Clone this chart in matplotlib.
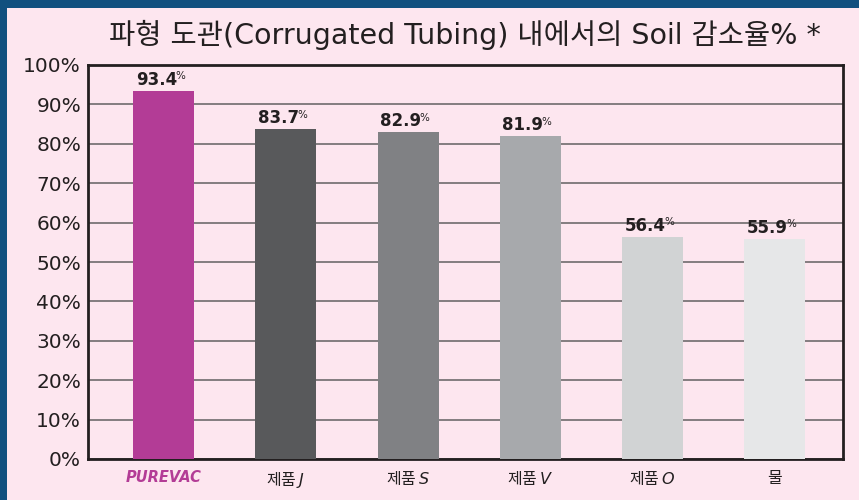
import matplotlib.pyplot as plt
from matplotlib.patches import Rectangle

plt.rcParams['font.family'] = ['Noto Sans CJK KR', 'DejaVu Sans']

categories = ['PUREVAC', '제품 $\\it{J}$', '제품 $\\it{S}$', '제품 $\\it{V}$', '제품 $\\it{O}$', '물']
values = [93.4, 83.7, 82.9, 81.9, 56.4, 55.9]
colors = ['#b33c96', '#58595b', '#808184', '#a7a9ac', '#d1d3d4', '#e6e7e8']
yticks = list(range(0, 101, 10))
title = '파형 도관(Corrugated Tubing) 내에서의 Soil 감소율% *'

fig = plt.figure(figsize=(8.59, 5.0), dpi=100)
fig.patch.set_facecolor('#11507f')
# pink panel behind everything
fig.patches.append(Rectangle((7 / 859, 0), 1, 1 - 8 / 500, transform=fig.transFigure,
                             facecolor='#fde6ef', edgecolor='none', zorder=-5))

ax = fig.add_axes([88 / 859, 41 / 500, (843 - 88) / 859, (459 - 65) / 500])
ax.set_zorder(2)
ax.set_facecolor('#fde6ef')
x = list(range(len(categories)))
ax.bar(x, values, width=0.5, color=colors, zorder=3)
ax.set_xlim(-0.62, 5.56)
ax.set_ylim(0, 100)
ax.set_yticks(yticks)
ax.set_yticklabels([f'{v}%' for v in yticks], fontsize=14.5, color='#231f20',
                   family='DejaVu Sans')
ax.yaxis.grid(True, color='#7a7577', linewidth=1.3, zorder=1)
ax.tick_params(length=0, pad=5)
ax.set_xticks(x)
ax.set_xticklabels(categories, fontsize=11.5, color='#231f20')
lbl = ax.get_xticklabels()[0]
lbl.set_color('#b33c96')
lbl.set_fontweight('bold')
lbl.set_fontstyle('italic')
lbl.set_family(['DejaVu Sans'])
lbl.set_fontsize(10.5)
ax.tick_params(axis='x', pad=8)
for s in ax.spines.values():
    s.set_linewidth(2)
    s.set_color('#231f20')

for xi, v in zip(x, values):
    t = ax.text(xi - 0.06, v + 0.5, f'{v:.1f}', ha='center', va='bottom',
                fontsize=12, fontweight='bold', color='#231f20', zorder=4,
                family='DejaVu Sans')
    ax.annotate('%', xy=(0.96, 0.98), xycoords=t, ha='left', va='top',
                fontsize=7.5, color='#231f20', zorder=4, family='DejaVu Sans')

fig.text(465 / 859, 1 - 35 / 500, title, ha='center', va='center',
         fontsize=20.5, color='#231f20', family=['DejaVu Sans', 'Noto Sans CJK KR'])

fig.savefig('out.png', dpi=100, facecolor=fig.get_facecolor())
